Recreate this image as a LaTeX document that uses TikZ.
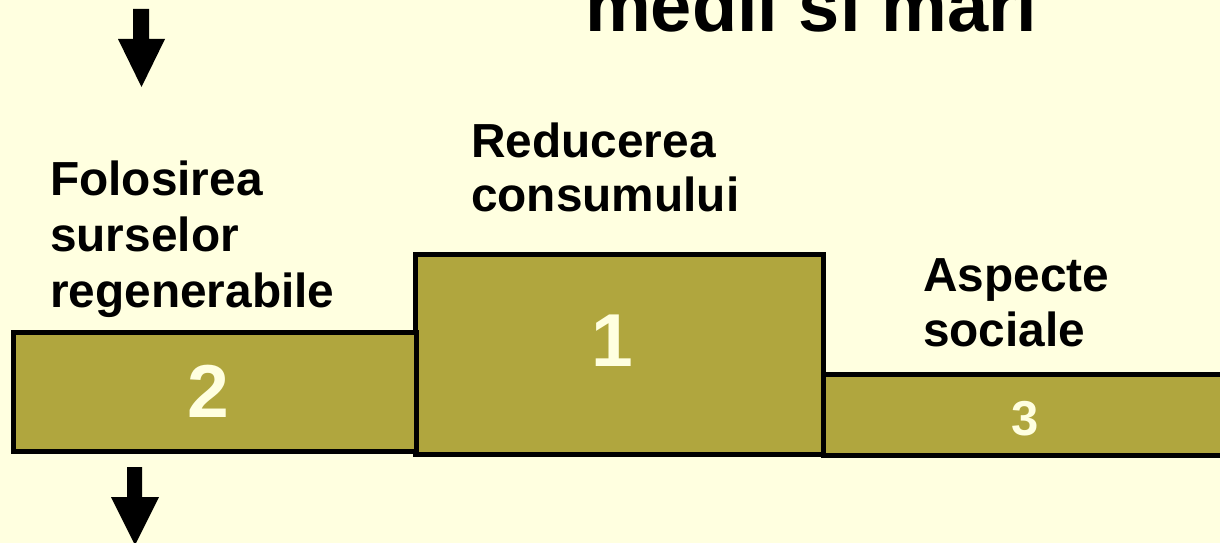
\documentclass[tikz,border=0pt]{standalone}
\usepackage{fontspec}
\setmainfont{Liberation Sans}
\definecolor{bg}{HTML}{FFFFE0}
\definecolor{olivebar}{HTML}{B0A63E}
\begin{document}
\begin{tikzpicture}[x=1pt,y=-1pt,
  bar/.style={draw=black,line width=5pt,fill=olivebar},
  lbl/.style={anchor=base west,inner sep=0pt,font=\fontsize{47.8}{55}\selectfont\bfseries},
  num/.style={anchor=base,inner sep=0pt,text=bg},
  arr/.style={fill=black}]
\useasboundingbox (0,0) rectangle (1220,543);
\clip (0,0) rectangle (1220,543);
\fill[bg] (0,0) rectangle (1220,543);
% title (cut off at top)
\node[anchor=base west,inner sep=0pt,font=\fontsize{74}{80}\selectfont\bfseries] (title) at (585,32) {medii si mari};
% arrows
\fill[arr] (133,9) -- (149,9) -- (149,39) -- (165,39) -- (141.5,87) -- (118,39) -- (133,39) -- cycle;
\fill[arr] (127,467) -- (142,467) -- (142,497) -- (159,497) -- (135,545) -- (111,497) -- (127,497) -- cycle;
% bars
\path[bar] (415.5,254.5) rectangle (823.5,454.5);
\path[bar] (13.5,332.5) rectangle (416.5,451.5);
\path[bar] (823,374.5) rectangle (1230,455.5);
% numbers
\node[num,font=\fontsize{75}{80}\selectfont\bfseries] (n2) at (208.5,417) {2};
\node[num,font=\fontsize{75}{80}\selectfont\bfseries] (n1) at (612,366) {1};
\node[num,font=\fontsize{49}{55}\selectfont\bfseries] (n3) at (1025.5,435) {3};
% labels
\node[lbl] (l2a) at (50,195) {Folosirea};
\node[lbl] (l2b) at (50,251.5) {surselor};
\node[lbl] (l2c) at (50,307) {regenerabile};
\node[lbl] (l1a) at (471,157.5) {Reducerea};
\node[lbl] (l1b) at (471,211) {consumului};
\node[lbl] (l3a) at (923,291.5) {Aspecte};
\node[lbl] (l3b) at (923,346.5) {sociale};
\end{tikzpicture}
\end{document}
